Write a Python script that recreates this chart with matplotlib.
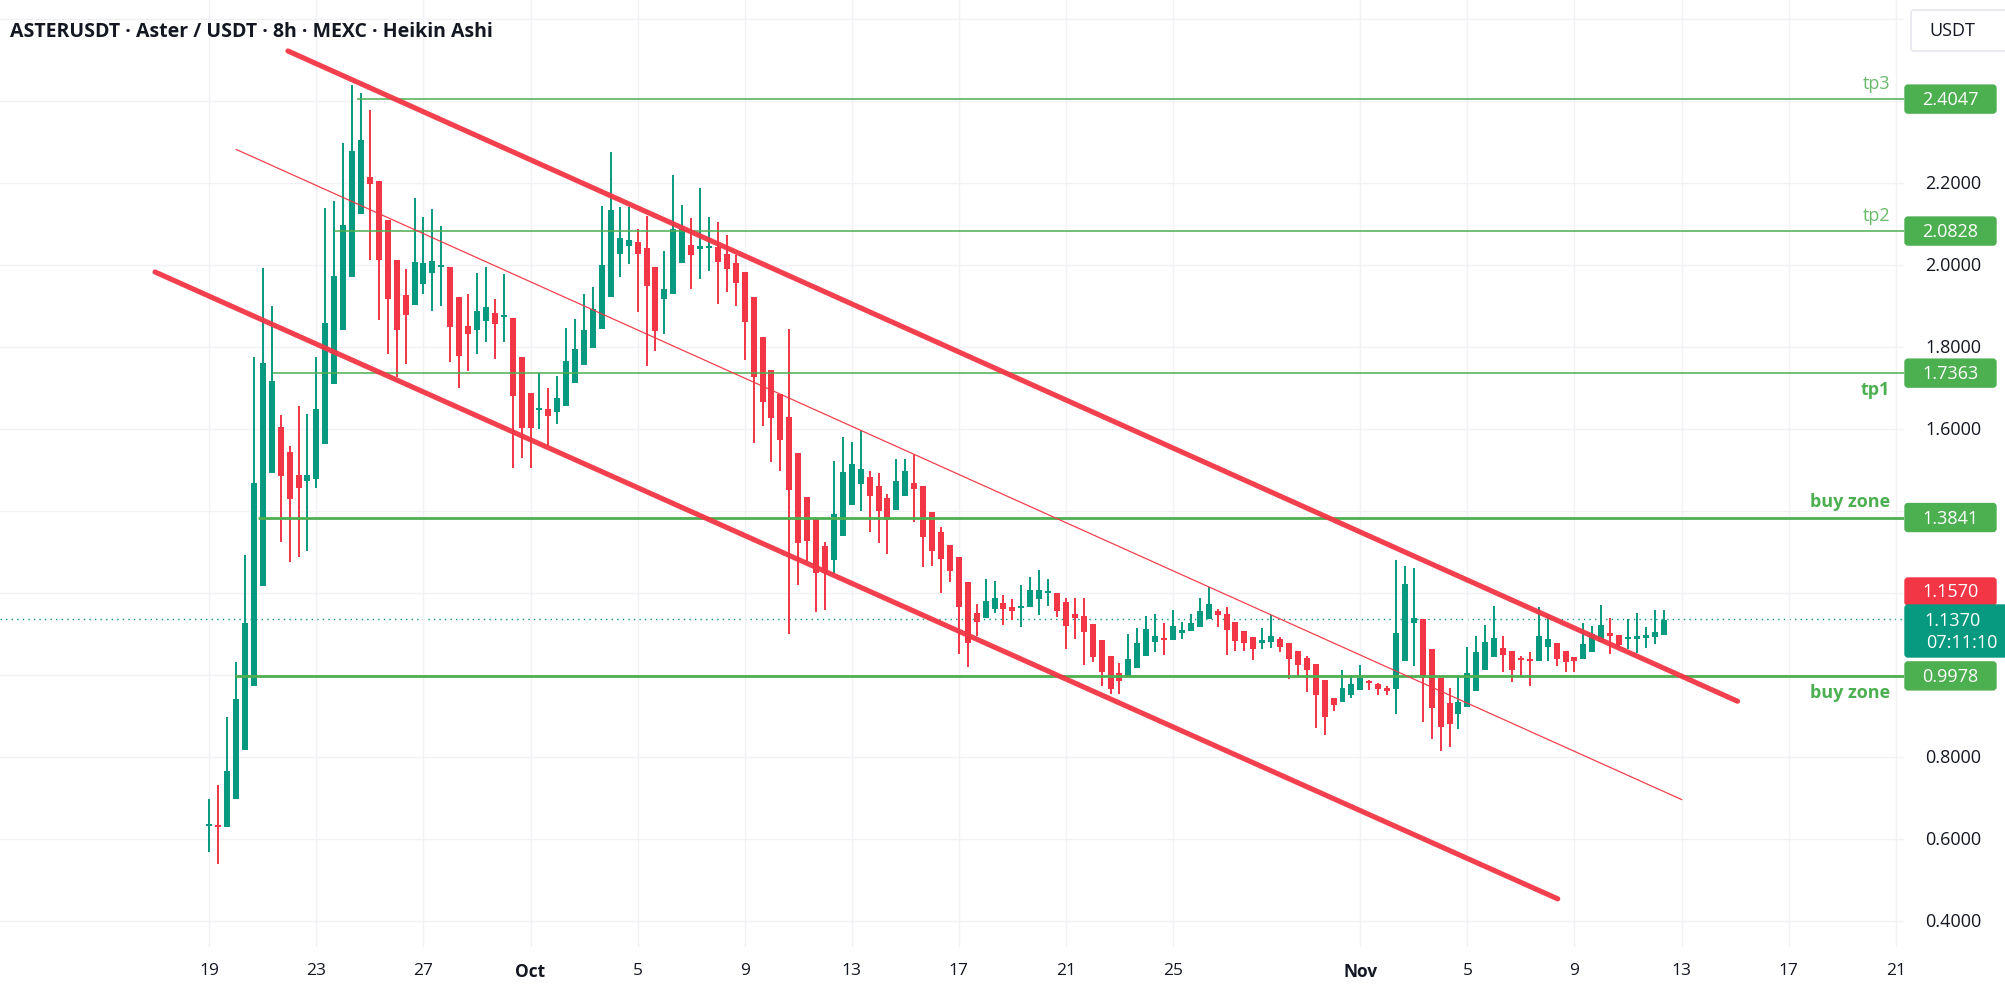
import numpy as np
import pandas as pd
import matplotlib
matplotlib.use('Agg')
import matplotlib.pyplot as plt
import matplotlib.dates as mdates
from matplotlib.patches import FancyBboxPatch
from matplotlib.transforms import blended_transform_factory

# Heikin Ashi candles, 8h, starting 2025-09-19 00:00
ha_open = [
    0.631, 0.632, 0.629, 0.697, 0.818, 0.972, 1.217, 1.492, 1.605, 1.543,
    1.488, 1.472, 1.479, 1.563, 1.710, 1.842, 1.970, 2.124, 2.214, 2.205,
    2.110, 2.012, 1.927, 1.903, 1.954, 1.980, 1.994, 1.994, 1.922, 1.851,
    1.842, 1.864, 1.882, 1.872, 1.871, 1.776, 1.689, 1.647, 1.649, 1.641,
    1.657, 1.711, 1.755, 1.797, 1.844, 1.921, 2.027, 2.047, 2.055, 2.041,
    1.996, 1.917, 1.929, 2.006, 2.049, 2.040, 2.042, 2.043, 2.027, 2.006,
    1.982, 1.923, 1.825, 1.745, 1.685, 1.630, 1.541, 1.433, 1.380, 1.315,
    1.281, 1.338, 1.415, 1.466, 1.484, 1.462, 1.431, 1.403, 1.437, 1.468,
    1.462, 1.397, 1.350, 1.318, 1.287, 1.226, 1.151, 1.139, 1.161, 1.175,
    1.167, 1.163, 1.167, 1.185, 1.200, 1.199, 1.179, 1.150, 1.145, 1.124,
    1.085, 1.046, 1.005, 0.996, 1.018, 1.047, 1.080, 1.088, 1.086, 1.102,
    1.107, 1.116, 1.137, 1.157, 1.150, 1.130, 1.108, 1.092, 1.079, 1.081,
    1.088, 1.078, 1.058, 1.041, 1.027, 0.989, 0.943, 0.935, 0.951, 0.964,
    0.982, 0.977, 0.969, 0.966, 1.035, 1.128, 1.137, 1.063, 0.992, 0.932,
    0.906, 0.921, 0.962, 1.011, 1.045, 1.066, 1.058, 1.038, 1.036, 1.033,
    1.068, 1.077, 1.058, 1.045, 1.039, 1.057, 1.080, 1.102, 1.098, 1.088,
    1.088, 1.091, 1.092, 1.098,
]
ha_high = [
    0.697, 0.732, 0.897, 1.031, 1.293, 1.776, 1.992, 1.899, 1.634, 1.559,
    1.657, 1.637, 1.776, 2.139, 2.157, 2.297, 2.440, 2.420, 2.378, 2.205,
    2.110, 2.012, 1.990, 2.163, 2.116, 2.137, 2.095, 1.994, 1.922, 1.929,
    1.981, 1.994, 1.917, 1.978, 1.871, 1.776, 1.689, 1.737, 1.699, 1.730,
    1.847, 1.868, 1.929, 1.947, 2.145, 2.275, 2.142, 2.141, 2.088, 2.120,
    1.996, 2.035, 2.219, 2.146, 2.114, 2.187, 2.116, 2.106, 2.073, 2.024,
    1.982, 1.923, 1.825, 1.745, 1.685, 1.845, 1.541, 1.433, 1.380, 1.325,
    1.523, 1.580, 1.569, 1.596, 1.498, 1.493, 1.441, 1.527, 1.528, 1.537,
    1.462, 1.397, 1.362, 1.318, 1.287, 1.226, 1.172, 1.234, 1.229, 1.195,
    1.185, 1.220, 1.238, 1.256, 1.234, 1.199, 1.189, 1.189, 1.187, 1.124,
    1.085, 1.046, 1.029, 1.100, 1.114, 1.145, 1.150, 1.128, 1.158, 1.130,
    1.150, 1.187, 1.214, 1.161, 1.165, 1.130, 1.108, 1.092, 1.115, 1.146,
    1.092, 1.078, 1.058, 1.047, 1.027, 0.989, 0.943, 1.011, 0.999, 1.025,
    0.989, 0.981, 0.972, 1.281, 1.265, 1.260, 1.137, 1.063, 0.992, 0.968,
    0.996, 1.068, 1.094, 1.123, 1.168, 1.096, 1.058, 1.047, 1.055, 1.165,
    1.149, 1.077, 1.058, 1.045, 1.126, 1.120, 1.171, 1.139, 1.098, 1.137,
    1.151, 1.116, 1.159, 1.159,
]
ha_low = [
    0.568, 0.539, 0.629, 0.697, 0.818, 0.972, 1.217, 1.492, 1.325, 1.275,
    1.289, 1.302, 1.455, 1.563, 1.710, 1.842, 1.970, 2.124, 2.011, 1.867,
    1.783, 1.726, 1.759, 1.903, 1.929, 1.887, 1.901, 1.764, 1.699, 1.742,
    1.782, 1.811, 1.771, 1.811, 1.506, 1.529, 1.506, 1.600, 1.559, 1.612,
    1.657, 1.711, 1.755, 1.797, 1.844, 1.921, 1.970, 2.002, 1.885, 1.754,
    1.791, 1.832, 1.929, 2.006, 1.941, 1.966, 1.986, 1.905, 1.935, 1.899,
    1.768, 1.566, 1.608, 1.520, 1.498, 1.100, 1.219, 1.279, 1.154, 1.159,
    1.250, 1.338, 1.415, 1.399, 1.350, 1.322, 1.295, 1.403, 1.437, 1.372,
    1.263, 1.267, 1.200, 1.228, 1.051, 1.019, 1.094, 1.139, 1.151, 1.123,
    1.133, 1.116, 1.167, 1.146, 1.169, 1.141, 1.063, 1.089, 1.024, 1.031,
    0.974, 0.954, 0.954, 0.996, 1.018, 1.047, 1.055, 1.049, 1.086, 1.089,
    1.107, 1.116, 1.137, 1.118, 1.050, 1.058, 1.058, 1.037, 1.063, 1.065,
    1.055, 0.990, 0.998, 0.958, 0.871, 0.854, 0.913, 0.935, 0.943, 0.964,
    0.963, 0.951, 0.951, 0.906, 1.035, 1.023, 0.885, 0.844, 0.815, 0.824,
    0.868, 0.921, 0.962, 1.011, 1.045, 1.008, 0.984, 0.998, 0.972, 1.033,
    1.033, 1.023, 1.007, 1.008, 1.039, 1.057, 1.080, 1.051, 1.065, 1.063,
    1.054, 1.065, 1.076, 1.098,
]
ha_close = [
    0.632, 0.630, 0.767, 0.941, 1.127, 1.468, 1.760, 1.718, 1.485, 1.429,
    1.455, 1.488, 1.649, 1.859, 1.974, 2.098, 2.279, 2.305, 2.197, 2.013,
    1.916, 1.842, 1.877, 2.007, 2.005, 2.009, 1.998, 1.848, 1.779, 1.832,
    1.888, 1.898, 1.856, 1.875, 1.681, 1.602, 1.602, 1.652, 1.631, 1.676,
    1.767, 1.795, 1.842, 1.893, 2.001, 2.134, 2.065, 2.062, 2.027, 1.948,
    1.840, 1.941, 2.088, 2.088, 2.024, 2.041, 2.044, 2.008, 1.990, 1.955,
    1.862, 1.726, 1.667, 1.628, 1.573, 1.452, 1.322, 1.327, 1.249, 1.249,
    1.393, 1.494, 1.515, 1.502, 1.436, 1.399, 1.379, 1.474, 1.498, 1.454,
    1.336, 1.303, 1.283, 1.254, 1.165, 1.077, 1.130, 1.181, 1.187, 1.161,
    1.157, 1.169, 1.207, 1.207, 1.203, 1.157, 1.120, 1.138, 1.106, 1.043,
    1.008, 0.966, 0.986, 1.039, 1.077, 1.112, 1.094, 1.086, 1.119, 1.110,
    1.128, 1.156, 1.173, 1.146, 1.110, 1.084, 1.077, 1.063, 1.082, 1.094,
    1.069, 1.039, 1.024, 1.013, 0.951, 0.897, 0.928, 0.968, 0.977, 0.993,
    0.980, 0.966, 0.961, 1.102, 1.222, 1.140, 0.992, 0.919, 0.872, 0.881,
    0.933, 1.005, 1.057, 1.080, 1.090, 1.050, 1.013, 1.036, 1.034, 1.096,
    1.089, 1.039, 1.031, 1.033, 1.076, 1.100, 1.123, 1.094, 1.072, 1.090,
    1.094, 1.093, 1.106, 1.135,
]

# horizontal levels drawn on the chart
level_names = ['tp3', 'tp2', 'tp1', 'buy zone', 'buy zone']
level_prices = [2.4047, 2.0828, 1.7363, 1.3841, 0.9978]
level_starts = ['2025-09-24 12:00', '2025-09-23 15:30', '2025-09-21 09:00',
                '2025-09-20 20:00', '2025-09-19 23:00']

# descending channel (two outer lines + middle line)
upper_t = ['2025-09-21 22:30', '2025-11-15 02:10']
upper_p = [2.522, 0.936]
lower_t = ['2025-09-16 23:20', '2025-11-08 09:00']
lower_p = [1.983, 0.454]
mid_t = ['2025-09-20 00:00', '2025-11-13 00:15']
mid_p = [2.282, 0.696]

last_price = 1.1370
mark_price = 1.1570
countdown = '07:11:10'

date_ticks = ['2025-09-19', '2025-09-23', '2025-09-27', '2025-10-01', '2025-10-05',
              '2025-10-09', '2025-10-13', '2025-10-17', '2025-10-21', '2025-10-25',
              '2025-11-01', '2025-11-05', '2025-11-09', '2025-11-13', '2025-11-17',
              '2025-11-21']
date_labels = ['19', '23', '27', 'Oct', '5', '9', '13', '17', '21', '25',
               'Nov', '5', '9', '13', '17', '21']
# labels visible on the price scale (the others sit under the level tags)
price_ticks = [0.4, 0.6, 0.8, 1.6, 1.8, 2.0, 2.2]

GREEN = '#089981'
RED = '#f23645'
LEVEL = '#4caf50'
TXT = '#131722'
GRID = '#f0f2f6'

plt.rcParams['font.family'] = ['Open Sans', 'DejaVu Sans']

W, H = 2006, 995
plot_w, plot_h = 1904, 948
fig = plt.figure(figsize=(W / 100, H / 100), dpi=100)
fig.patch.set_facecolor('white')
ax = fig.add_axes([0, 1 - plot_h / H, plot_w / W, plot_h / H])
rax = fig.add_axes([plot_w / W, 1 - plot_h / H, (W - plot_w) / W, plot_h / H])

y_lo, y_hi = 0.3366, 2.6488
ppu = plot_h / (y_hi - y_lo)  # pixels per price unit

times = pd.date_range('2025-09-19', periods=len(ha_open), freq='8h')
x = mdates.date2num(times)
base = mdates.date2num(pd.Timestamp('2025-09-19'))
ax.set_xlim(base - 7.82, base + 63.31)
ax.set_ylim(y_lo, y_hi)

o = np.array(ha_open)
h = np.array(ha_high)
l = np.array(ha_low)
c = np.array(ha_close)
colors = np.where(c >= o, GREEN, RED)

# candles
ax.vlines(x, l, h, colors=colors, lw=1.4, zorder=2)
body = np.maximum(np.abs(c - o), 2.2 / ppu)
ax.bar(x, body, bottom=np.minimum(o, c), width=0.224, color=colors, lw=0, zorder=3)

# grid
ax.set_xticks(mdates.date2num(pd.to_datetime(date_ticks)))
ax.set_xticklabels(date_labels)
ax.set_yticks(np.arange(0.4, 2.61, 0.2))
ax.grid(True, color=GRID, lw=1, zorder=0)
ax.tick_params(axis='y', left=False, labelleft=False)
ax.tick_params(axis='x', length=0, pad=11, labelsize=12.5, labelcolor=TXT)
for lab in ax.get_xticklabels():
    if lab.get_text() in ('Oct', 'Nov'):
        lab.set_fontweight('bold')
for s in ax.spines.values():
    s.set_visible(False)

# last price dotted line
ax.axhline(last_price, color=GREEN, lw=1, ls=(0, (1, 3)), zorder=1.5)

# levels
x_right = ax.get_xlim()[1]
trans = blended_transform_factory(ax.transAxes, ax.transData)
for name, p, st in zip(level_names, level_prices, level_starts):
    thick = name == 'buy zone'
    ax.hlines(p, mdates.date2num(pd.Timestamp(st)), x_right, color=LEVEL,
              lw=2.0 if thick else 1.1, zorder=3.5)
offsets = [11.5, 11.5, -11.5, 12.0, -11.5]
for name, p, off in zip(level_names, level_prices, offsets):
    bold = name != 'tp3' and name != 'tp2'
    ax.annotate(name, xy=(1890 / plot_w, p), xycoords=trans, xytext=(0, off),
                textcoords='offset points', ha='right', va='center',
                color=LEVEL, fontsize=13, fontweight='bold' if bold else 'normal',
                alpha=1.0 if bold else 0.85)

# channel
for ts, ps, lw in [(upper_t, upper_p, 3.7), (lower_t, lower_p, 3.7), (mid_t, mid_p, 0.9)]:
    ax.plot(mdates.date2num(pd.to_datetime(ts)), ps, color=RED, lw=lw,
            solid_capstyle='round', zorder=4, alpha=0.95)

# price scale
rax.set_xlim(0, W - plot_w)
rax.set_ylim(y_lo, y_hi)
rax.axis('off')
for p in price_ticks:
    rax.text(49, p, f'{p:.4f}', ha='center', va='center', color=TXT, fontsize=13)


def price_box(y_top_px, y_bot_px, x0, x1, face, edge=None):
    top = y_hi - y_top_px / ppu
    bot = y_hi - y_bot_px / ppu
    box = FancyBboxPatch((x0, bot), x1 - x0, top - bot,
                         boxstyle='round,pad=0,rounding_size=3',
                         mutation_aspect=1 / ppu, facecolor=face,
                         edgecolor=edge if edge else face, lw=1, zorder=5,
                         clip_on=False)
    rax.add_patch(box)


for p in level_prices:
    yc = (y_hi - p) * ppu
    price_box(yc - 14, yc + 14, 1, 92, LEVEL)
    rax.text(46.5, p, f'{p:.4f}', ha='center', va='center', color='white',
             fontsize=13, zorder=6)

price_box(579, 606, 1, 92, RED)
rax.text(46.5, y_hi - 592.5 / ppu, f'{mark_price:.4f}', ha='center', va='center',
         color='white', fontsize=13, zorder=6)
price_box(606, 658, 1, 106, GREEN)
rax.text(49, y_hi - 621 / ppu, f'{last_price:.4f}', ha='center', va='center',
         color='white', fontsize=13, zorder=6)
rax.text(58, y_hi - 643 / ppu, countdown, ha='center', va='center',
         color='white', fontsize=13, zorder=6)

price_box(11, 52, 7, 110, 'white', edge='#e0e3eb')
rax.text(48, y_hi - 31.5 / ppu, 'USDT', ha='center', va='center', color=TXT,
         fontsize=13, zorder=6)

fig.text(10 / W, 1 - 32 / H, 'ASTERUSDT · Aster / USDT · 8h · MEXC · Heikin Ashi',
         ha='left', va='center', fontsize=14, fontweight='bold', color=TXT)

fig.savefig('out.png', dpi=100)
